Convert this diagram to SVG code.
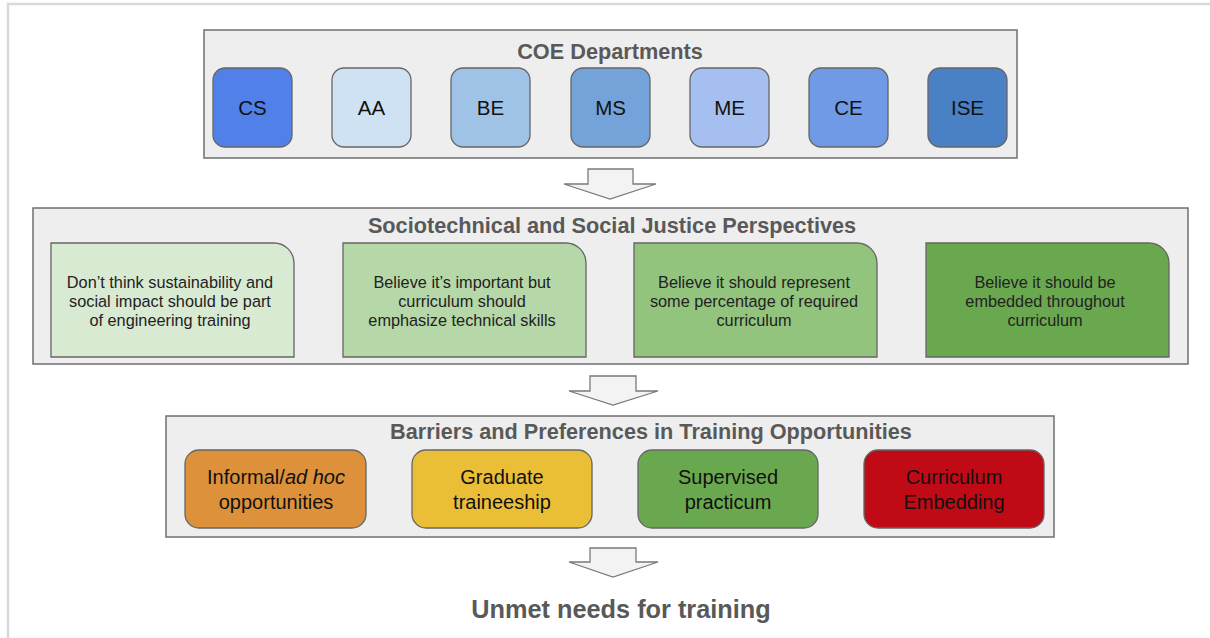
<svg xmlns="http://www.w3.org/2000/svg" width="1210" height="638" viewBox="0 0 1210 638">
<style>
text{font-family:"Liberation Sans",Arial,sans-serif;text-anchor:middle}
.frame{fill:none;stroke:#d9d9d9;stroke-width:2.5}
.cont{fill:#eeeeee;stroke:#6f6f6f;stroke-width:1.5}
.title{font-size:21.7px;font-weight:bold;fill:#595959}
.dept{stroke:#666;stroke-width:1.3}
.dt{font-size:20.5px;fill:#111}
.persp{stroke:#666;stroke-width:1.3}
.pt{font-size:16.3px;fill:#222}
.opp{stroke:#666;stroke-width:1.3}
.ot{font-size:20px;fill:#111}
.arrow{fill:#f3f3f3;stroke:#7a7a7a;stroke-width:1.3;stroke-linejoin:miter}
</style>
<rect width="1210" height="638" fill="#fff"/>
<path class="frame" d="M8 638 V4 H1210"/>

<g id="coe-departments">
<rect class="cont" x="204" y="30" width="813" height="128"/>
<text class="title" x="610" y="59">COE Departments</text>
</g>
<g id="dept-cs"><rect class="dept" x="213" y="68" width="79" height="79" rx="12" fill="#5080e8"/><text class="dt" x="252.5" y="115">CS</text></g>
<g id="dept-aa"><rect class="dept" x="332" y="68" width="79" height="79" rx="12" fill="#cfe2f3"/><text class="dt" x="371.5" y="115">AA</text></g>
<g id="dept-be"><rect class="dept" x="451" y="68" width="79" height="79" rx="12" fill="#9fc3e6"/><text class="dt" x="490.5" y="115">BE</text></g>
<g id="dept-ms"><rect class="dept" x="571" y="68" width="79" height="79" rx="12" fill="#73a3d8"/><text class="dt" x="610.5" y="115">MS</text></g>
<g id="dept-me"><rect class="dept" x="690" y="68" width="79" height="79" rx="12" fill="#a4bff0"/><text class="dt" x="729.5" y="115">ME</text></g>
<g id="dept-ce"><rect class="dept" x="809" y="68" width="79" height="79" rx="12" fill="#6f9be6"/><text class="dt" x="848.5" y="115">CE</text></g>
<g id="dept-ise"><rect class="dept" x="928" y="68" width="79" height="79" rx="12" fill="#4a80c4"/><text class="dt" x="967.5" y="115">ISE</text></g>

<g id="perspectives">
<rect class="cont" x="33" y="208" width="1155" height="156"/>
<text class="title" x="612" y="233">Sociotechnical and Social Justice Perspectives</text>
</g>
<g id="persp-1"><path class="persp" d="M51 243 H274 A20 20 0 0 1 294 263 V357 H51 Z" fill="#d9ead3"/>
<text class="pt"><tspan x="170" y="288">Don’t think sustainability and</tspan><tspan x="170" y="307">social impact should be part</tspan><tspan x="170" y="326">of engineering training</tspan></text></g>
<g id="persp-2"><path class="persp" d="M343 243 H566 A20 20 0 0 1 586 263 V357 H343 Z" fill="#b6d7a8"/>
<text class="pt"><tspan x="462" y="288">Believe it’s important but</tspan><tspan x="462" y="307">curriculum should</tspan><tspan x="462" y="326">emphasize technical skills</tspan></text></g>
<g id="persp-3"><path class="persp" d="M634 243 H857 A20 20 0 0 1 877 263 V357 H634 Z" fill="#93c47d"/>
<text class="pt"><tspan x="754" y="288">Believe it should represent</tspan><tspan x="754" y="307">some percentage of required</tspan><tspan x="754" y="326">curriculum</tspan></text></g>
<g id="persp-4"><path class="persp" d="M926 243 H1149 A20 20 0 0 1 1169 263 V357 H926 Z" fill="#6aa84f"/>
<text class="pt"><tspan x="1045" y="288">Believe it should be</tspan><tspan x="1045" y="307">embedded throughout</tspan><tspan x="1045" y="326">curriculum</tspan></text></g>

<g id="barriers">
<rect class="cont" x="166" y="416" width="888" height="121"/>
<text class="title" x="651" y="439">Barriers and Preferences in Training Opportunities</text>
</g>
<g id="opp-informal"><rect class="opp" x="185" y="450" width="181" height="78" rx="14" fill="#dd913b"/>
<text class="ot"><tspan x="276" y="484">Informal/<tspan font-style="italic">ad hoc</tspan></tspan><tspan x="276" y="509">opportunities</tspan></text></g>
<g id="opp-graduate"><rect class="opp" x="412" y="450" width="180" height="78" rx="14" fill="#ebbe38"/>
<text class="ot"><tspan x="502" y="484">Graduate</tspan><tspan x="502" y="509">traineeship</tspan></text></g>
<g id="opp-supervised"><rect class="opp" x="638" y="450" width="180" height="78" rx="14" fill="#6aa84f"/>
<text class="ot"><tspan x="728" y="484">Supervised</tspan><tspan x="728" y="509">practicum</tspan></text></g>
<g id="opp-curriculum"><rect class="opp" x="864" y="450" width="180" height="78" rx="14" fill="#c00a16"/>
<text class="ot" fill="#3a0000"><tspan x="954" y="484">Curriculum</tspan><tspan x="954" y="509">Embedding</tspan></text></g>

<g id="connectors">
<path class="arrow" d="M588 169 H633 V184 H656 L610 199 L564 184 H588 Z"/>
<path class="arrow" d="M590 376 H636 V391 H658 L613 405 L569 391 H590 Z"/>
<path class="arrow" d="M590 548 H636 V562 H658 L613 577 L569 562 H590 Z"/>
</g>
<text class="title" x="621" y="618" style="font-size:25.3px">Unmet needs for training</text>
</svg>
